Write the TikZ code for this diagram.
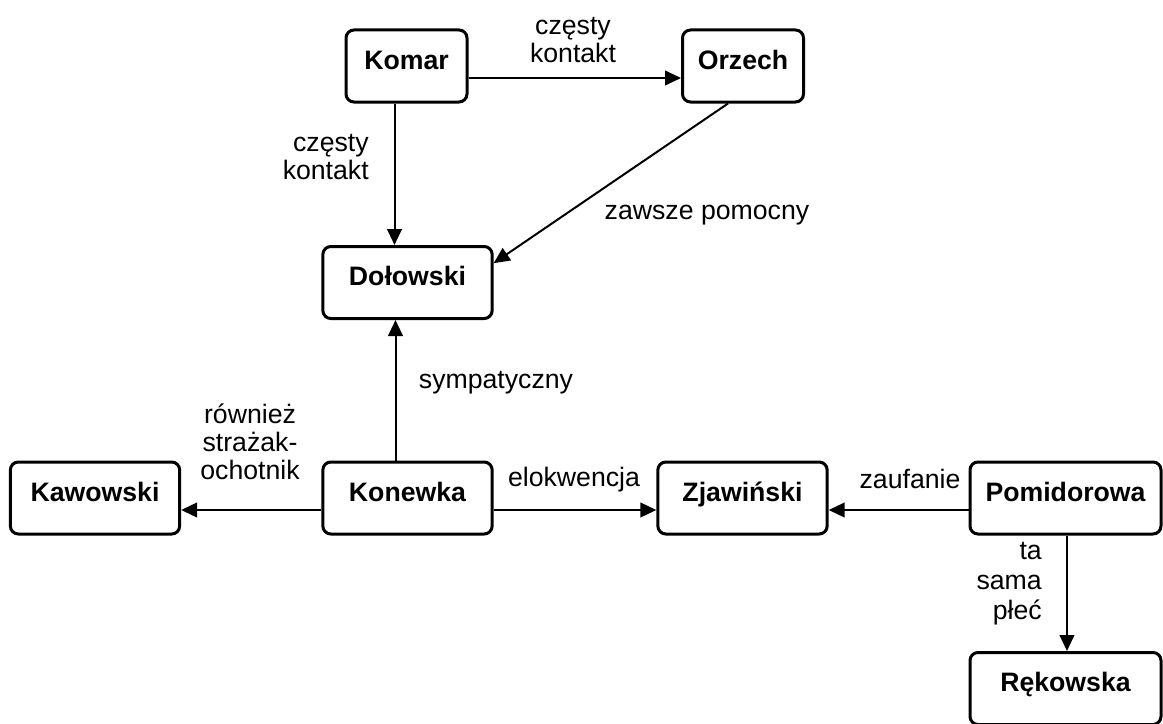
\documentclass[tikz,border=0pt]{standalone}
\usepackage{fontspec}
\setmainfont{Liberation Sans}
\usetikzlibrary{arrows.meta}

\begin{document}
\begin{tikzpicture}[x=0.75pt,y=-0.75pt,
    person/.style={draw,line width=2.25pt,rounded corners=6pt,inner sep=0pt,
      minimum height=54pt,font=\fontsize{20}{21}\selectfont\bfseries,
      text height=14pt,text depth=9pt},
    link/.style={line width=1.5pt,-{Triangle[length=12pt,width=11pt]}},
    tag/.style={inner sep=0pt,font=\fontsize{20}{21}\selectfont}]
    \useasboundingbox (0,0) rectangle (1163,724);
    % people
    \node [person,minimum width=90.75pt] (komar) at (406.5,66) {Komar};
    \node [person,minimum width=90.75pt] (orzech) at (743,66) {Orzech};
    \node [person,minimum width=127pt] (dolowski) at (407.5,282.5) {Dołowski};
    \node [person,minimum width=127pt] (kawowski) at (95,498) {Kawowski};
    \node [person,minimum width=127pt] (konewka) at (407.5,498) {Konewka};
    \node [person,minimum width=127pt] (zjawinski) at (742.5,498) {Zjawiński};
    \node [person,minimum width=143.25pt] (pomidorowa) at (1065.5,498) {Pomidorowa};
    \node [person,minimum width=143.25pt] (rekowska) at (1065.5,688.5) {Rękowska};
    % relations
    \draw [link] ([yshift=-9pt]komar.east) -- ([yshift=-9pt]orzech.west);
    \draw [link] ([xshift=-9pt]komar.south) -- ([xshift=-9pt]komar.south |- dolowski.north);
    \draw [link] ([xshift=-11.25pt]orzech.south) -- ([yshift=14.5pt]dolowski.east);
    \draw [link] ([xshift=-9pt]konewka.north) -- ([xshift=-9pt]konewka.north |- dolowski.south);
    \draw [link] ([yshift=-9pt]konewka.west) -- ([yshift=-9pt]konewka.west -| kawowski.east);
    \draw [link] ([yshift=-9pt]konewka.east) -- ([yshift=-9pt]konewka.east -| zjawinski.west);
    \draw [link] ([yshift=-9pt]pomidorowa.west) -- ([yshift=-9pt]pomidorowa.west -| zjawinski.east);
    \draw [link] ([xshift=1.1pt]pomidorowa.south) -- ([xshift=1.1pt]rekowska.north);
    % labels
    \node [tag,align=center] (t-ko) at (573,40) {częsty\\kontakt};
    \node [tag,align=right,anchor=east] (t-kd) at (369,157) {częsty\\kontakt};
    \node [tag] (t-od) at (707,215) {zawsze pomocny};
    \node [tag] (t-nd) at (496,383) {sympatyczny};
    \node [tag,align=center] (t-nk) at (250,442) {również\\strażak-\\ochotnik};
    \node [tag] (t-nz) at (574,480) {elokwencja};
    \node [tag] (t-pz) at (910,479) {zaufanie};
    \node [tag,align=right,anchor=east,font=\fontsize{20}{22.5}\selectfont] (t-pr) at (1042,584) {ta\\sama\\płeć};
\end{tikzpicture}
\end{document}
